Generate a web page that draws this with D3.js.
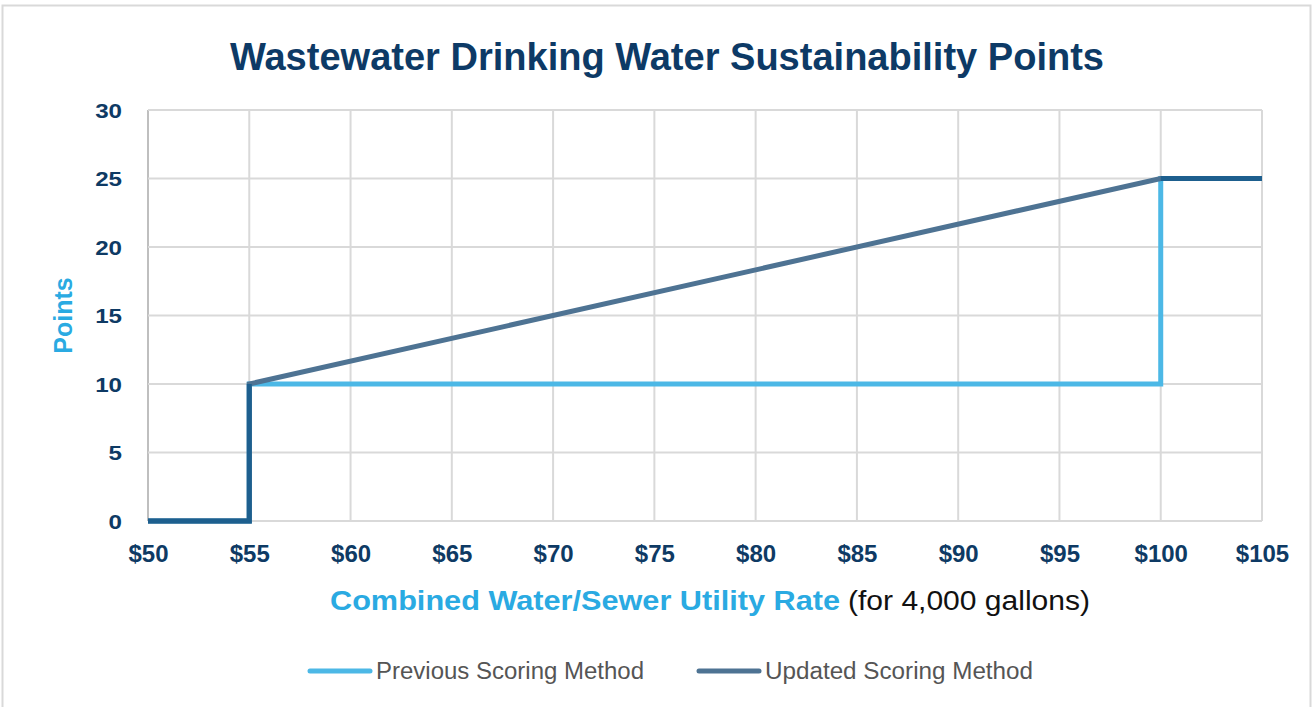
<!DOCTYPE html>
<html>
<head>
<meta charset="utf-8">
<script src="https://cdnjs.cloudflare.com/ajax/libs/d3/7.8.5/d3.min.js"></script>
<style>
  body { margin: 0; background: #fff; }
  #chart { width: 1314px; height: 707px; }
</style>
</head>
<body>
<div id="chart"></div>
<script>
// chart data
var xTicks = [50, 55, 60, 65, 70, 75, 80, 85, 90, 95, 100, 105];
var yTicks = [0, 5, 10, 15, 20, 25, 30];
var seriesNames = ["Previous Scoring Method", "Updated Scoring Method"];
var previousX = [50, 55, 55, 100, 100, 105];
var previousY = [0, 0, 10, 10, 25, 25];
var updatedX = [50, 55, 55, 100, 105];
var updatedY = [0, 0, 10, 25, 25];
// segments where both methods give the same points
var sharedX = [[50, 55, 55], [100, 105]];
var sharedY = [[0, 0, 10], [25, 25]];

var colors = {previous: "#4cb8e6", updated: "#4e7393", shared: "#1d5f8e"};

var W = 1314, H = 707;
var margin = {top: 110, right: 52, bottom: 186, left: 148};

var svg = d3.select("#chart").append("svg")
    .attr("width", W)
    .attr("height", H);

// outer frame
svg.append("rect")
    .attr("x", 2.5).attr("y", 5.5)
    .attr("width", 1308).attr("height", H)
    .attr("fill", "#fff")
    .attr("stroke", "#d9d9d9")
    .attr("stroke-width", 2);

var x = d3.scaleLinear().domain([50, 105]).range([margin.left, W - margin.right]);
var y = d3.scaleLinear().domain([0, 30]).range([H - margin.bottom, margin.top]);

// gridlines
var g = svg.append("g");
g.selectAll(".vgrid")
    .data(xTicks)
    .enter().append("line")
    .attr("x1", function (d) { return x(d); })
    .attr("x2", function (d) { return x(d); })
    .attr("y1", y(30)).attr("y2", y(0))
    .attr("stroke", function (d) { return d == 50 ? "#bfbfbf" : "#d9d9d9"; })
    .attr("stroke-width", 2);
g.selectAll(".hgrid")
    .data(yTicks)
    .enter().append("line")
    .attr("x1", x(50)).attr("x2", x(105))
    .attr("y1", function (d) { return y(d); })
    .attr("y2", function (d) { return y(d); })
    .attr("stroke", "#d9d9d9")
    .attr("stroke-width", 2);

// axes (labels only)
var xAxis = svg.append("g")
    .attr("transform", "translate(0,562)")
    .call(d3.axisBottom(x).tickValues(xTicks).tickSize(0).tickFormat(function (d) { return "$" + d; }));
var yAxis = svg.append("g")
    .attr("transform", "translate(" + (x(50) - 26) + ",0)")
    .call(d3.axisLeft(y).tickValues(yTicks).tickSize(0));
[xAxis, yAxis].forEach(function (a) {
    a.select(".domain").remove();
    a.selectAll("text")
        .attr("fill", "#0e3a64")
        .style("font-family", "'Liberation Sans', Arial, sans-serif")
        .style("font-weight", "bold");
});
xAxis.selectAll("text").attr("y", 0).attr("dy", 0).style("font-size", "24px");
yAxis.selectAll("text").attr("x", 0).attr("dy", "0.35em").style("font-size", "21px")
    .attr("transform", "scale(1.15,1)");

// lines
var line = d3.line()
    .x(function (d) { return x(d[0]); })
    .y(function (d) { return y(d[1]); });

function pts(xs, ys) { return xs.map(function (v, i) { return [v, ys[i]]; }); }

svg.append("path")
    .datum(pts(previousX, previousY))
    .attr("d", line)
    .attr("fill", "none")
    .attr("stroke", colors.previous)
    .attr("stroke-width", 5);
svg.append("path")
    .datum(pts(updatedX, updatedY))
    .attr("d", line)
    .attr("fill", "none")
    .attr("stroke", colors.updated)
    .attr("stroke-width", 5);
sharedX.forEach(function (xs, i) {
    svg.append("path")
        .datum(pts(xs, sharedY[i]))
        .attr("d", line)
        .attr("fill", "none")
        .attr("stroke", colors.shared)
        .attr("stroke-width", 5);
});

// title
svg.append("text")
    .attr("x", 667).attr("y", 70)
    .attr("text-anchor", "middle")
    .attr("fill", "#0d3a66")
    .attr("textLength", 874)
    .attr("lengthAdjust", "spacingAndGlyphs")
    .style("font-family", "'Liberation Sans', Arial, sans-serif")
    .style("font-weight", "bold")
    .style("font-size", "38px")
    .text("Wastewater Drinking Water Sustainability Points");

// y title
svg.append("text")
    .attr("transform", "translate(72," + y(15) + ") rotate(-90)")
    .attr("text-anchor", "middle")
    .attr("fill", "#2aaae2")
    .style("font-family", "'Liberation Sans', Arial, sans-serif")
    .style("font-weight", "bold")
    .style("font-size", "25px")
    .text("Points");

// x title
var xt = svg.append("text")
    .attr("y", 610)
    .style("font-family", "'Liberation Sans', Arial, sans-serif")
    .style("font-size", "27px");
xt.append("tspan").attr("x", 330)
    .attr("fill", "#2aaae2").style("font-weight", "bold")
    .attr("textLength", 510).attr("lengthAdjust", "spacingAndGlyphs")
    .text("Combined Water/Sewer Utility Rate");
xt.append("tspan").attr("x", 848)
    .attr("fill", "#111")
    .attr("textLength", 242).attr("lengthAdjust", "spacingAndGlyphs")
    .text("(for 4,000 gallons)");

// legend
var legendX = [308, 697];
var legendColors = [colors.previous, colors.updated];
var legend = svg.selectAll(".legend")
    .data(seriesNames)
    .enter().append("g")
    .attr("transform", function (d, i) { return "translate(" + legendX[i] + ",671)"; });
legend.append("line")
    .attr("x1", 2).attr("x2", 62)
    .attr("stroke", function (d, i) { return legendColors[i]; })
    .attr("stroke-width", 5)
    .attr("stroke-linecap", "round");
legend.append("text")
    .attr("x", 68).attr("dy", "0.35em")
    .attr("fill", "#555")
    .attr("textLength", 268)
    .attr("lengthAdjust", "spacingAndGlyphs")
    .style("font-family", "'Liberation Sans', Arial, sans-serif")
    .style("font-size", "23px")
    .text(function (d) { return d; });
</script>
</body>
</html>
